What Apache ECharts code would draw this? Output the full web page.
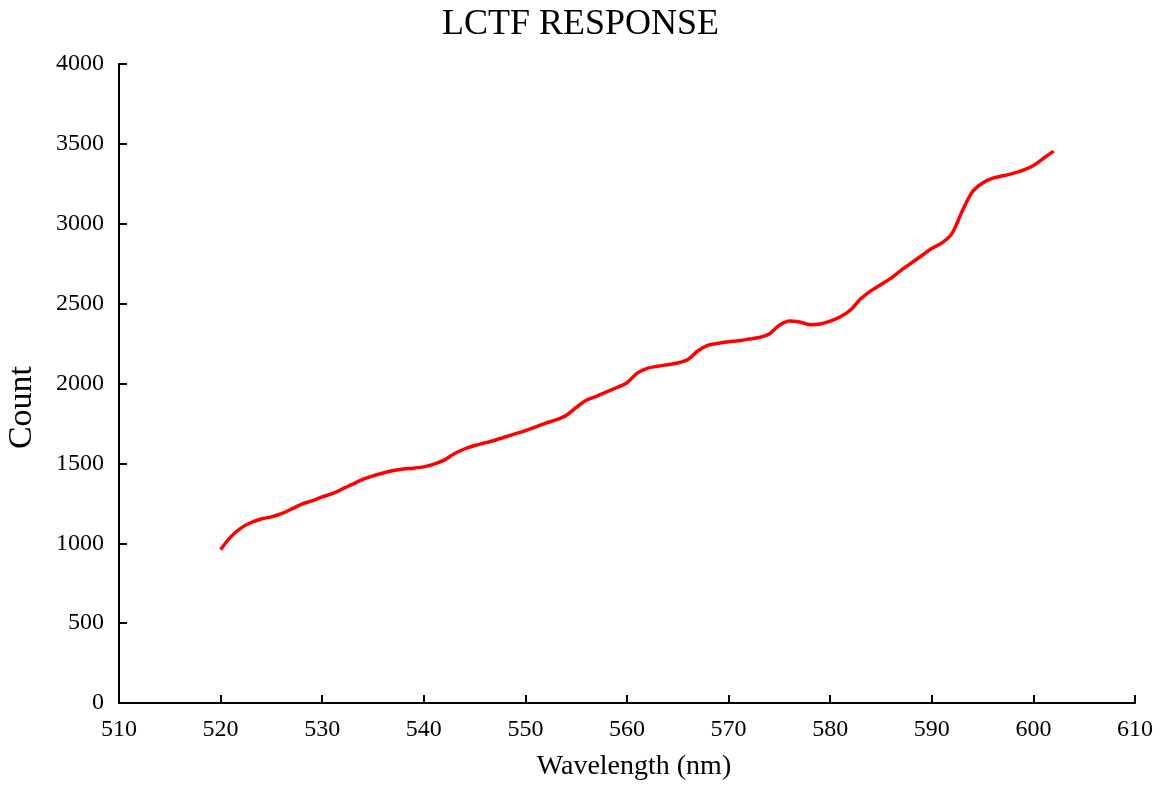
<!DOCTYPE html>
<html>
<head>
<meta charset="utf-8">
<script src="https://cdn.jsdelivr.net/npm/echarts@6/dist/echarts.min.js"></script>
<style>
html,body{margin:0;padding:0;background:#fff;}
#chart{width:1161px;height:788px;}
</style>
</head>
<body>
<div id="chart"></div>
<script>
var wavelengths = [520,521,522,523,524,525,526,527,528,529,530,531,532,533,534,535,536,537,538,539,540,541,542,543,544,545,546,547,548,549,550,551,552,553,554,555,556,557,558,559,560,561,562,563,564,565,566,567,568,569,570,571,572,573,574,575,576,577,578,579,580,581,582,583,584,585,586,587,588,589,590,591,592,593,594,595,596,597,598,599,600,601,602];
var counts = [960,1040,1095,1130,1152,1165,1185,1215,1245,1265,1290,1310,1340,1370,1400,1422,1440,1455,1465,1470,1478,1495,1520,1560,1590,1612,1628,1645,1665,1685,1705,1728,1752,1772,1800,1850,1895,1920,1948,1975,2005,2065,2095,2108,2118,2128,2150,2205,2240,2252,2262,2268,2278,2288,2310,2365,2392,2385,2368,2372,2390,2418,2460,2530,2580,2620,2660,2710,2755,2800,2845,2880,2940,3080,3200,3255,3285,3300,3315,3335,3365,3410,3455];
var titleText = 'LCTF RESPONSE';
var xName = 'Wavelength (nm)';
var yName = 'Count';

var seriesData = wavelengths.map(function(w, i){ return [w, counts[i]]; });
var FONT = '"Liberation Serif", "DejaVu Serif", serif';

var chart = echarts.init(document.getElementById('chart'));
chart.setOption({
  backgroundColor: '#ffffff',
  animation: false,
  title: {
    text: titleText,
    left: 'center',
    top: 2,
    textStyle: { fontFamily: FONT, fontSize: 36, fontWeight: 'normal', color: '#000' }
  },
  grid: { left: 119, right: 26, top: 64, bottom: 85, containLabel: false, outerBoundsMode: 'none' },
  xAxis: {
    type: 'value',
    min: 510, max: 610, interval: 10,
    name: xName,
    nameLocation: 'middle',
    nameGap: 50,
    nameTextStyle: { fontFamily: FONT, fontSize: 28, color: '#000', padding: [0, 0, 0, 14] },
    axisLine: { show: true, onZero: false, lineStyle: { color: '#000', width: 2 } },
    axisTick: { show: true, inside: true, length: 8, lineStyle: { color: '#000', width: 2 } },
    axisLabel: { fontFamily: FONT, fontSize: 24, color: '#000', margin: 15, formatter: function(v){ return String(v); } },
    splitLine: { show: false }
  },
  yAxis: {
    type: 'value',
    min: 0, max: 4000, interval: 500,
    name: yName,
    nameLocation: 'middle',
    nameGap: 80,
    nameTextStyle: { fontFamily: FONT, fontSize: 34, color: '#000', padding: [0, 48, 0, 0] },
    axisLine: { show: true, onZero: false, lineStyle: { color: '#000', width: 2 } },
    axisTick: { show: true, inside: true, length: 8, lineStyle: { color: '#000', width: 2 } },
    axisLabel: { fontFamily: FONT, fontSize: 24, color: '#000', margin: 15, formatter: function(v){ return String(v); } },
    splitLine: { show: false }
  },
  series: [{
    type: 'line',
    data: seriesData,
    smooth: 0.3,
    showSymbol: false,
    lineStyle: { color: '#ff0000', width: 3.5 },
    itemStyle: { color: '#ff0000' }
  }]
});
</script>
</body>
</html>
